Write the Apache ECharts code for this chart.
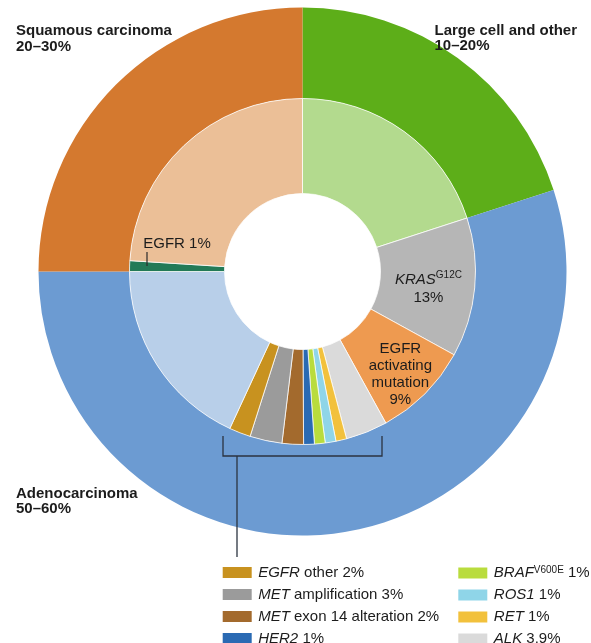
<!DOCTYPE html>
<html>
<head>
<meta charset="utf-8">
<script src="https://cdn.jsdelivr.net/npm/echarts@6/dist/echarts.min.js"></script>
<style>
  html, body { margin: 0; padding: 0; background: #fff; }
  #chart { width: 591px; height: 643px; }
</style>
</head>
<body>
<div id="chart"></div>
<script>
// Histological subtypes (outer ring), clockwise from 12 o'clock
const subtypeNames = ['Large cell and other', 'Adenocarcinoma', 'Squamous carcinoma'];
const subtypeValues = [20, 55, 25];
const subtypeRanges = ['10–20%', '50–60%', '20–30%'];
const subtypeColors = ['#5dae19', '#6c9bd2', '#d4792f'];

// Driver alterations (inner ring), clockwise from 12 o'clock
const driverNames = ['Large cell', 'KRAS', 'EGFR activating mutation', 'ALK', 'RET', 'ROS1',
  'BRAF', 'HER2', 'MET exon 14 alteration', 'MET amplification', 'EGFR other',
  'Adenocarcinoma other', 'EGFR', 'Squamous other'];
const driverValues = [20, 13, 9, 3.9, 1, 1, 1, 1, 2, 3, 2, 18.1, 1, 24];
const driverColors = ['#b3da8e', '#b6b6b6', '#ee9a50', '#dadada', '#f2c13c', '#8fd5e8',
  '#b9dc3d', '#2a6ab3', '#a36a2d', '#9b9b9b', '#c8921f', '#b8cfe9', '#237a57', '#ebbf97'];
const driverSuperscripts = { 'KRAS': 'G12C', 'BRAF': 'V600E' };

// Legend columns
const legendLeft = ['EGFR other', 'MET amplification', 'MET exon 14 alteration', 'HER2'];
const legendRight = ['BRAF', 'ROS1', 'RET', 'ALK'];

const FONT = '"Liberation Sans", Arial, Helvetica, sans-serif';
const TEXT = '#1c1c1c';
const CENTER = [302.5, 271.5];

function valueOf(name) {
  return driverValues[driverNames.indexOf(name)];
}
function pct(v) { return v + '%'; }

// "GENE rest value%" with the gene name italic and any mutation as superscript
function richGene(name) {
  const parts = name.split(' ');
  const gene = parts[0];
  const rest = parts.slice(1).join(' ');
  let s = '{i|' + gene + '}';
  if (driverSuperscripts[gene]) s += '{sup|' + driverSuperscripts[gene] + '}';
  if (rest) s += '{n| ' + rest + '}';
  return s + '{n| ' + pct(valueOf(name)) + '}';
}

const richStyles = {
  i: { fontStyle: 'italic', fontSize: 15, fontFamily: FONT, color: TEXT, lineHeight: 16 },
  n: { fontSize: 15, fontFamily: FONT, color: TEXT, lineHeight: 16 },
  sup: { fontSize: 10, fontFamily: FONT, color: TEXT, verticalAlign: 'top', lineHeight: 10 }
};

const labelled = {
  'KRAS': p => '{ki|KRAS}{sup|' + driverSuperscripts['KRAS'] + '}\n{kn|' + pct(p.value) + '}',
  'EGFR activating mutation': p => '{n|EGFR}\n{n|activating}\n{n|mutation}\n{n|' + pct(p.value) + '}',
  'EGFR': p => '{n|EGFR ' + pct(p.value) + '}'
};

const driverData = driverNames.map((name, k) => ({
  name: name,
  value: driverValues[k],
  itemStyle: { color: driverColors[k] },
  label: { show: !!labelled[name] }
}));

const subtypeData = subtypeNames.map((name, k) => ({
  name: name,
  value: subtypeValues[k],
  itemStyle: { color: subtypeColors[k] }
}));

function legendBlock(names, left) {
  return {
    data: names,
    orient: 'vertical',
    left: left,
    top: 565,
    height: 120,
    padding: 0,
    itemWidth: 29,
    itemHeight: 11,
    itemGap: 7,
    icon: 'rect',
    selectedMode: false,
    itemStyle: { borderWidth: 0 },
    formatter: richGene,
    textStyle: { fontSize: 15, fontFamily: FONT, color: TEXT, padding: [0, 0, 0, 1.5], rich: richStyles }
  };
}

const chart = echarts.init(document.getElementById('chart'), null, { renderer: 'canvas' });

chart.setOption({
  animation: false,
  backgroundColor: '#ffffff',
  legend: [legendBlock(legendLeft, 222.7), legendBlock(legendRight, 458.3)],
  series: [
    {
      type: 'pie',
      name: 'Subtype',
      center: CENTER,
      radius: [173, 264],
      startAngle: 90,
      clockwise: true,
      silent: true,
      label: { show: false },
      labelLine: { show: false },
      itemStyle: { borderWidth: 0 },
      data: subtypeData
    },
    {
      type: 'pie',
      name: 'Driver',
      center: CENTER,
      radius: [78, 173],
      startAngle: 90,
      clockwise: true,
      silent: true,
      itemStyle: { borderColor: 'rgba(255,255,255,0.75)', borderWidth: 1 },
      label: {
        show: false,
        position: 'inside',
        color: TEXT,
        fontFamily: FONT,
        fontSize: 15,
        lineHeight: 16.5,
        formatter: p => labelled[p.name] ? labelled[p.name](p) : '',
        rich: {
          i: { fontStyle: 'italic', fontSize: 15, fontFamily: FONT, color: TEXT, lineHeight: 16.7 },
          n: { fontSize: 15, fontFamily: FONT, color: TEXT, lineHeight: 16.7 },
          ki: { fontStyle: 'italic', fontSize: 15, fontFamily: FONT, color: TEXT, lineHeight: 18 },
          kn: { fontSize: 15, fontFamily: FONT, color: TEXT, lineHeight: 18 },
          sup: { fontSize: 10, fontFamily: FONT, color: TEXT, verticalAlign: 'top', lineHeight: 12 }
        }
      },
      labelLine: { show: false },
      labelLayout: function (p) {
        const name = driverNames[p.dataIndex];
        if (name === 'KRAS') return { dx: -2, dy: 5 };
        if (name === 'EGFR activating mutation') return { dx: 7, dy: 12 };
        if (name === 'EGFR') return { x: 177, y: 243.5, align: 'center', verticalAlign: 'middle' };
        return {};
      },
      data: driverData
    }
  ],
  graphic: [
    {
      type: 'text', left: 16, top: 23.5, z: 100,
      style: { text: subtypeNames[2] + '\n' + subtypeRanges[2], font: 'bold 15px ' + FONT, fill: TEXT, lineHeight: 15.5 }
    },
    {
      type: 'text', right: 14, top: 23, z: 100,
      style: { text: subtypeNames[0] + '\n' + subtypeRanges[0], font: 'bold 15px ' + FONT, fill: TEXT, lineHeight: 15.5, align: 'right' }
    },
    {
      type: 'text', left: 16, top: 486, z: 100,
      style: { text: subtypeNames[1] + '\n' + subtypeRanges[1], font: 'bold 15px ' + FONT, fill: TEXT, lineHeight: 15.5 }
    },
    // tick from the EGFR 1% label to its slice
    {
      type: 'line', silent: true, z: 100,
      shape: { x1: 147, y1: 252, x2: 147, y2: 266 },
      style: { stroke: '#2b2b2b', lineWidth: 1.2 }
    },
    // bracket grouping the rare adenocarcinoma drivers, leading to the legend
    {
      type: 'polyline', silent: true, z: 100,
      shape: { points: [[223, 436], [223, 456], [382, 456], [382, 436]] },
      style: { stroke: '#2b3340', lineWidth: 1.3, fill: null }
    },
    {
      type: 'line', silent: true, z: 100,
      shape: { x1: 237, y1: 456, x2: 237, y2: 557 },
      style: { stroke: '#2b3340', lineWidth: 1.3 }
    }
  ]
});
</script>
</body>
</html>
